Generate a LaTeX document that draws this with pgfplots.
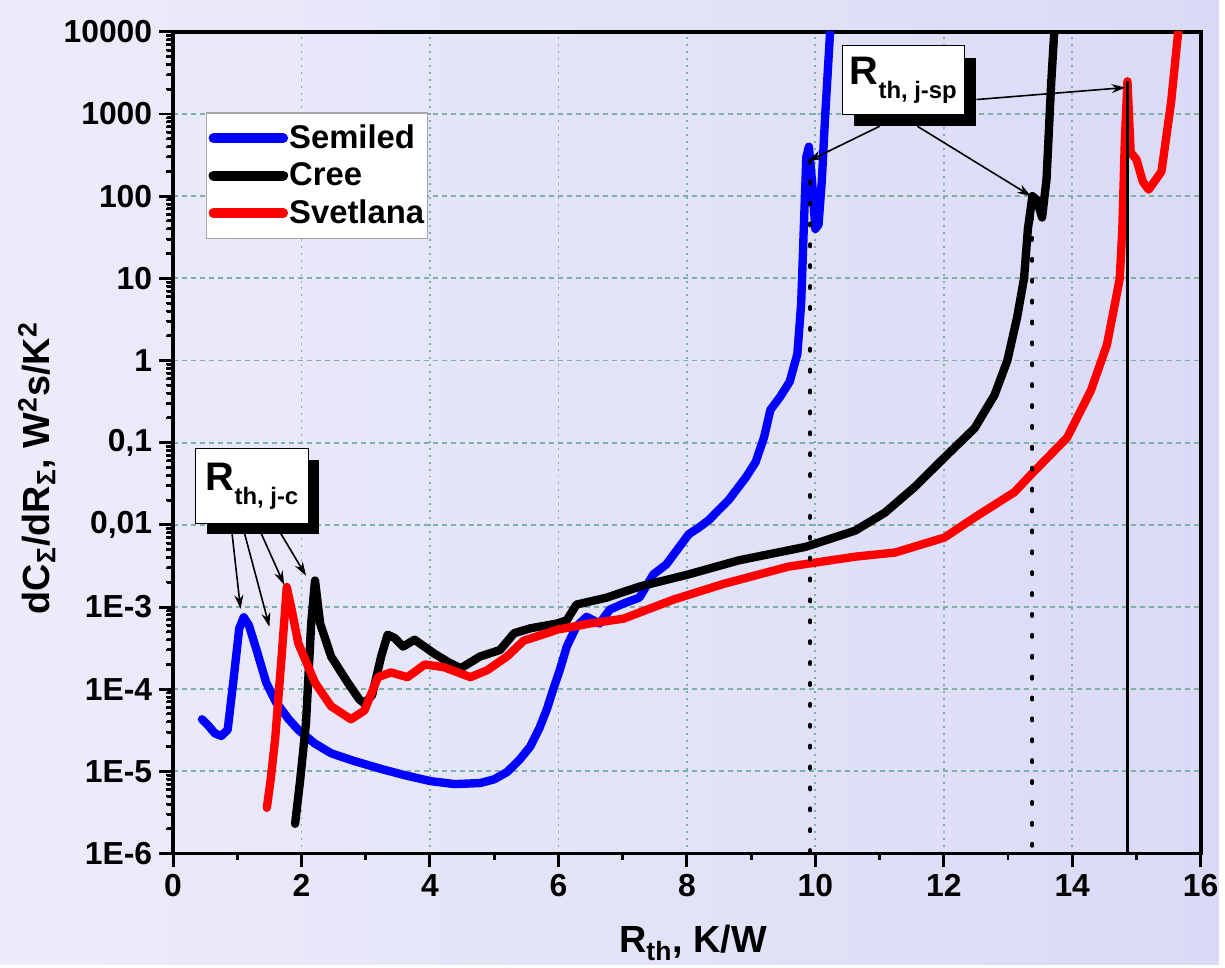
\documentclass[border=0pt]{standalone}
\usepackage{fontspec}
\setmainfont{Liberation Sans}
\usepackage{pgfplots}
\pgfplotsset{compat=1.18}
\usetikzlibrary{arrows.meta,shadows}
\definecolor{semiled}{HTML}{0000FF}
\definecolor{svet}{HTML}{FF0000}
\definecolor{gridc}{HTML}{7FB2A6}
\definecolor{bgl}{HTML}{ECECFA}
\definecolor{bgm}{HTML}{FAFAFE}
\definecolor{bgr}{HTML}{DADAF6}
\newcommand{\bigR}[1]{{\fontsize{20}{20}\selectfont R}\raisebox{-7pt}{\fontsize{12}{12}\selectfont #1}}

\begin{document}
\begin{tikzpicture}
\shade[left color=bgl, middle color=bgm, right color=bgr] (-87pt,-56pt) rectangle (525.5pt,429pt);
\begin{axis}[
  scale only axis, width=516.5pt, height=413pt,
  xmin=0, xmax=16, ymin=1e-6, ymax=1e4, ymode=log,
  font=\bfseries,
  axis line style={line width=1.9pt},
  xtick={0,2,...,16}, xticklabels={0,2,4,6,8,10,12,14,16},
  ytick={1e-6,1e-5,1e-4,1e-3,1e-2,1e-1,1,10,100,1000,10000},
  yticklabels={1E-6,1E-5,1E-4,1E-3,{0,01},{0,1},1,10,100,1000,10000},
  /pgf/number format/assume math mode=true,
  tick align=outside, xtick pos=bottom, ytick pos=left,
  major tick length=7pt,
  every tick/.style={black, line width=1.5pt},
  ticklabel style={font=\fontsize{16}{16}\selectfont\bfseries},
  grid=major,
  major x grid style={gridc, line width=0.9pt, dash pattern=on 1pt off 2.5pt},
  major y grid style={gridc, line width=0.9pt, dash pattern=on 2.5pt off 2pt},
  xlabel={R\textsubscript{th}, K/W},
  ylabel={dC\textsubscript{Σ}/dR\textsubscript{Σ}, W\textsuperscript{2}s/K\textsuperscript{2}},
  xlabel style={at={(axis description cs:0.506,-0.109)}, anchor=center, font=\fontsize{19}{19}\selectfont\bfseries},
  ylabel style={at={(axis description cs:-0.1326,0.469)}, anchor=center, font=\fontsize{19}{19}\selectfont\bfseries},
  legend style={at={(axis description cs:0.032,0.902)}, anchor=north west, draw=gray!70, line width=0.6pt,
    fill=white, font=\fontsize{16.5}{16.5}\selectfont\bfseries, inner xsep=1pt, inner ysep=4pt, row sep=1.5pt,
    nodes={inner xsep=0.5pt},
    /tikz/every even column/.append style={column sep=0pt}},
  legend cell align=left,
  legend image code/.code={\draw[#1, line width=5pt, line cap=round] (2pt,0pt) -- (37pt,0pt);},
  every axis plot/.append style={line width=4.2pt, line join=round, line cap=round},
]
\addplot[semiled] coordinates {
(0.45,4.3e-5) (0.55,3.6e-5) (0.65,2.9e-5) (0.75,2.7e-5) (0.85,3.2e-5) (0.95,1.5e-4)
(1.03,5.5e-4) (1.1,7.5e-4) (1.18,6e-4) (1.3,3e-4) (1.45,1.2e-4) (1.6,7e-5) (1.8,4.3e-5)
(1.95,3.2e-5) (2.2,2.2e-5) (2.46,1.66e-5) (2.8,1.35e-5) (3.24,1.07e-5) (3.6,9e-6)
(4.01,7.6e-6) (4.38,7e-6) (4.78,7.2e-6) (5.0,8e-6) (5.2,9.8e-6) (5.4,1.4e-5) (5.56,2.0e-5)
(5.7,3.3e-5) (5.82,5.7e-5) (5.92,1.0e-4) (6.02,1.7e-4) (6.13,3.3e-4) (6.28,5.8e-4)
(6.44,7.6e-4) (6.64,6.3e-4) (6.8,9.3e-4) (7.01,1.1e-3) (7.26,1.3e-3) (7.48,2.5e-3)
(7.68,3.3e-3) (8.03,7.7e-3) (8.19,9.3e-3) (8.34,1.14e-2) (8.65,2.0e-2) (8.92,3.8e-2)
(9.07,5.8e-2) (9.2,0.115) (9.3,0.25) (9.45,0.36) (9.6,0.55) (9.72,1.2) (9.78,5)
(9.82,40) (9.86,300) (9.9,400) (9.95,150) (10.0,40) (10.05,45) (10.1,150) (10.15,850)
(10.23,10000)};
\addlegendentry{Semiled}
\addplot[black] coordinates {
(1.9,2.3e-6) (1.98,8e-6) (2.07,3.9e-5) (2.15,6.3e-4) (2.21,2.1e-3) (2.29,6.3e-4)
(2.46,2.5e-4) (2.72,1.2e-4) (2.9,7.5e-5) (2.98,6.7e-5) (3.1,8.5e-5) (3.24,2.5e-4)
(3.34,4.6e-4) (3.45,4.2e-4) (3.58,3.3e-4) (3.76,4.0e-4) (4.07,2.7e-4) (4.3,2.1e-4)
(4.48,1.8e-4) (4.78,2.5e-4) (5.09,3.0e-4) (5.31,4.8e-4) (5.56,5.5e-4) (5.98,6.3e-4)
(6.13,6.9e-4) (6.28,1.07e-3) (6.75,1.3e-3) (7.26,1.77e-3) (8.03,2.5e-3) (8.81,3.7e-3)
(9.85,5.4e-3) (10.62,8.5e-3) (11.08,1.4e-2) (11.55,2.9e-2) (12.01,6.6e-2) (12.48,0.15)
(12.79,0.38) (12.99,1) (13.14,3.3) (13.25,10) (13.31,40) (13.38,100) (13.45,90)
(13.53,55) (13.6,160) (13.67,2200) (13.72,10000)};
\addlegendentry{Cree}
\addplot[svet] coordinates {
(1.46,3.6e-6) (1.52,8e-6) (1.59,2.5e-5) (1.69,2.5e-4) (1.77,1.75e-3) (1.85,9e-4)
(1.95,3.6e-4) (2.21,1.2e-4) (2.46,6.2e-5) (2.77,4.3e-5) (2.98,5.5e-5) (3.19,1.4e-4)
(3.39,1.6e-4) (3.65,1.4e-4) (3.92,2.0e-4) (4.22,1.85e-4) (4.63,1.4e-4) (4.89,1.7e-4)
(5.2,2.5e-4) (5.46,3.9e-4) (5.82,4.8e-4) (5.98,5.3e-4) (6.49,6.3e-4) (7.01,7.2e-4)
(7.79,1.23e-3) (8.56,1.9e-3) (9.58,3.1e-3) (10.62,4.1e-3) (11.24,4.6e-3) (12.01,7e-3)
(12.48,1.23e-2) (13.1,2.5e-2) (13.36,4.1e-2) (13.92,0.115) (14.29,0.43) (14.54,1.55)
(14.69,6.2) (14.74,10) (14.78,40) (14.82,500) (14.86,2500) (14.91,340) (15.0,280)
(15.1,150) (15.19,120) (15.39,200) (15.54,1400) (15.65,10000)};
\addlegendentry{Svetlana}
% markers of R_th,j-sp
\addplot[forget plot, black, line width=2pt, dash pattern=on 1pt off 9.5pt, line cap=round] coordinates {(9.92,270) (9.92,1e-6)};
\addplot[forget plot, black, line width=2pt, dash pattern=on 1pt off 9.5pt, line cap=round] coordinates {(13.38,100) (13.38,1e-6)};
\addplot[forget plot, black, line width=1.6pt, line cap=butt] coordinates {(14.86,2500) (14.86,1e-6)};
% annotations
\draw[-{Stealth[length=7pt,width=4.5pt]}, line width=0.8pt] (axis cs:0.90,0.0105) -- (axis cs:1.05,9.5e-4);
\draw[-{Stealth[length=7pt,width=4.5pt]}, line width=0.8pt] (axis cs:1.07,0.0105) -- (axis cs:1.50,5.75e-4);
\draw[-{Stealth[length=7pt,width=4.5pt]}, line width=0.8pt] (axis cs:1.30,0.0105) -- (axis cs:1.73,1.86e-3);
\draw[-{Stealth[length=7pt,width=4.5pt]}, line width=0.8pt] (axis cs:1.58,0.0105) -- (axis cs:2.07,2.4e-3);
\node[draw=black, line width=0.5pt, fill=white, minimum width=56.5pt, minimum height=37.5pt, inner sep=0pt,
  drop shadow={shadow xshift=5.5pt, shadow yshift=-5.5pt, fill=black, opacity=1}] at (axis cs:1.23,0.0297) {\bigR{th, j-c}};
\draw[-{Stealth[length=7pt,width=4.5pt]}, line width=0.8pt] (axis cs:11.0,708) -- (axis cs:9.89,267);
\draw[-{Stealth[length=7pt,width=4.5pt]}, line width=0.8pt] (axis cs:11.59,708) -- (axis cs:13.36,100);
\draw[-{Stealth[length=7pt,width=4.5pt]}, line width=0.8pt] (axis cs:12.51,1500) -- (axis cs:14.83,2100);
\node[draw=black, line width=0.5pt, fill=white, minimum width=61.5pt, minimum height=34.5pt, inner sep=0pt,
  drop shadow={shadow xshift=6pt, shadow yshift=-6pt, fill=black, opacity=1}] at (axis cs:11.37,2588) {\bigR{th, j-sp}};
\end{axis}
% tick marks on the outer side of the axis box (axis is 516.5pt x 413pt, 41.3pt per decade)
\foreach \i in {0,...,16} {
  \pgfmathsetmacro\xx{\i*516.5/16}
  \pgfmathsetmacro\tl{ifthenelse(mod(\i,2)==0,7,3.5)}
  \draw[black, line width=1.5pt] (\xx pt,0pt) -- (\xx pt,-\tl pt);
}
\foreach \k in {0,...,10} {
  \draw[black, line width=1.5pt] (0pt,\k*41.3pt) -- (-7pt,\k*41.3pt);
}
\foreach \k in {0,...,9} {
  \foreach \m in {2,...,9} {
    \pgfmathsetmacro\yy{(\k+log10(\m))*41.3}
    \draw[black, line width=1.2pt] (0pt,\yy pt) -- (-3.5pt,\yy pt);
  }
}
\end{tikzpicture}
\end{document}
